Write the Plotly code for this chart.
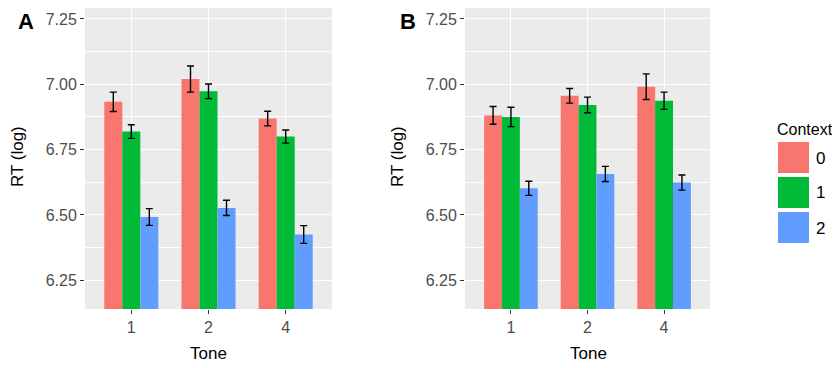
import plotly.graph_objects as go

tones = ["1", "2", "4"]
contexts = ["0", "1", "2"]
colors = ["#F8766D", "#00BA38", "#619CFF"]

# Panel A means and standard errors (rows = context 0,1,2 ; columns = tone 1,2,4)
a_means = [[6.933, 7.020, 6.869],
           [6.819, 6.973, 6.800],
           [6.492, 6.527, 6.425]]
a_errs = [[0.037, 0.050, 0.028],
          [0.026, 0.028, 0.025],
          [0.032, 0.029, 0.034]]

# Panel B
b_means = [[6.881, 6.956, 6.991],
           [6.875, 6.921, 6.937],
           [6.602, 6.657, 6.624]]
b_errs = [[0.034, 0.028, 0.049],
          [0.037, 0.030, 0.033],
          [0.027, 0.029, 0.029]]

y_ticks = [6.25, 6.50, 6.75, 7.00, 7.25]
y_minor = [6.375, 6.625, 6.875, 7.125]

# page has an 8px body margin: figure is drawn at (8, 8)
OFF = 8
W, H = 840 - OFF, 368 - OFF


def px(x):
    return (x - OFF) / W


def py(y):
    return min(1.0, max(0.0, 1 - (y - OFF) / H))


fig = go.Figure()
for panel, (means, errs) in enumerate([(a_means, a_errs), (b_means, b_errs)]):
    xa = "x" if panel == 0 else "x2"
    ya = "y" if panel == 0 else "y2"
    for i, c in enumerate(contexts):
        fig.add_trace(go.Bar(
            x=tones, y=means[i], name=c, legendgroup=c,
            showlegend=False,
            marker=dict(color=colors[i], line=dict(width=0)),
            error_y=dict(type="data", array=errs[i], color="black",
                         thickness=1.4, width=3.5),
            xaxis=xa, yaxis=ya,
        ))

font_family = "Liberation Sans, Arial, sans-serif"
axis_common_y = dict(
    range=[6.14, 7.292], tickvals=y_ticks,
    ticktext=[f"{v:.2f}" for v in y_ticks],
    showgrid=True, gridcolor="white", gridwidth=1.3,
    minor=dict(tickvals=y_minor, showgrid=True, gridcolor="white", gridwidth=0.6, ticks=""),
    ticks="outside", ticklen=4, tickcolor="#333333", tickwidth=1.2,
    tickfont=dict(size=16, color="#4D4D4D"),
    zeroline=False, showline=False, automargin=False,
)
axis_common_x = dict(
    type="category", categoryorder="array", categoryarray=tones,
    range=[-0.6, 2.6],
    showgrid=True, gridcolor="white", gridwidth=1.3,
    ticks="outside", ticklen=4, tickcolor="#333333", tickwidth=1.2,
    tickfont=dict(size=16, color="#4D4D4D"),
    zeroline=False, showline=False, automargin=False,
)

title_font = dict(size=17, color="black")
annots = []
# axis titles
for xc in (208, 588):
    annots.append(dict(text="Tone", x=px(xc), y=py(353), xref="paper", yref="paper",
                       xanchor="center", yanchor="middle", showarrow=False, font=title_font))
for xc in (17, 397):
    annots.append(dict(text="RT (log)", x=px(xc), y=py(157), xref="paper", yref="paper",
                       xanchor="center", yanchor="middle", showarrow=False, textangle=-90,
                       font=title_font))
# panel tags
for lab, xl in (("A", 16), ("B", 398)):
    annots.append(dict(text=f"<b>{lab}</b>", x=px(xl), y=py(22), xref="paper", yref="paper",
                       xanchor="left", yanchor="middle", showarrow=False,
                       font=dict(size=22, color="black")))

# Legend drawn as swatches + labels (ggplot-style large keys)
legend_shapes = []
annots.append(dict(text="Context", x=px(775), y=py(129), xref="paper", yref="paper",
                   xanchor="left", yanchor="middle", showarrow=False,
                   font=dict(size=16, color="black")))
for i, c in enumerate(contexts):
    top = 142 + i * 35
    legend_shapes.append(dict(type="rect", xref="paper", yref="paper",
                              x0=px(778), x1=px(809), y0=py(top + 31), y1=py(top),
                              fillcolor=colors[i], line=dict(width=0)))
    annots.append(dict(text=c, x=px(814), y=py(top + 16), xref="paper", yref="paper",
                       xanchor="left", yanchor="middle", showarrow=False, font=title_font))

fig.update_layout(
    width=W, height=H,
    margin=dict(l=0, r=0, t=0, b=0),
    paper_bgcolor="white", plot_bgcolor="#EBEBEB",
    font=dict(family=font_family, color="black"),
    barmode="group", bargap=0.3, bargroupgap=0,
    showlegend=False,
    xaxis=dict(domain=[px(85), px(332)], anchor="y", **axis_common_x),
    yaxis=dict(domain=[py(309), py(8)], anchor="x", **axis_common_y),
    xaxis2=dict(domain=[px(465), px(710)], anchor="y2", **axis_common_x),
    yaxis2=dict(domain=[py(309), py(8)], anchor="x2", **axis_common_y),
    shapes=legend_shapes,
    annotations=annots,
)

fig.write_html("out.html")
